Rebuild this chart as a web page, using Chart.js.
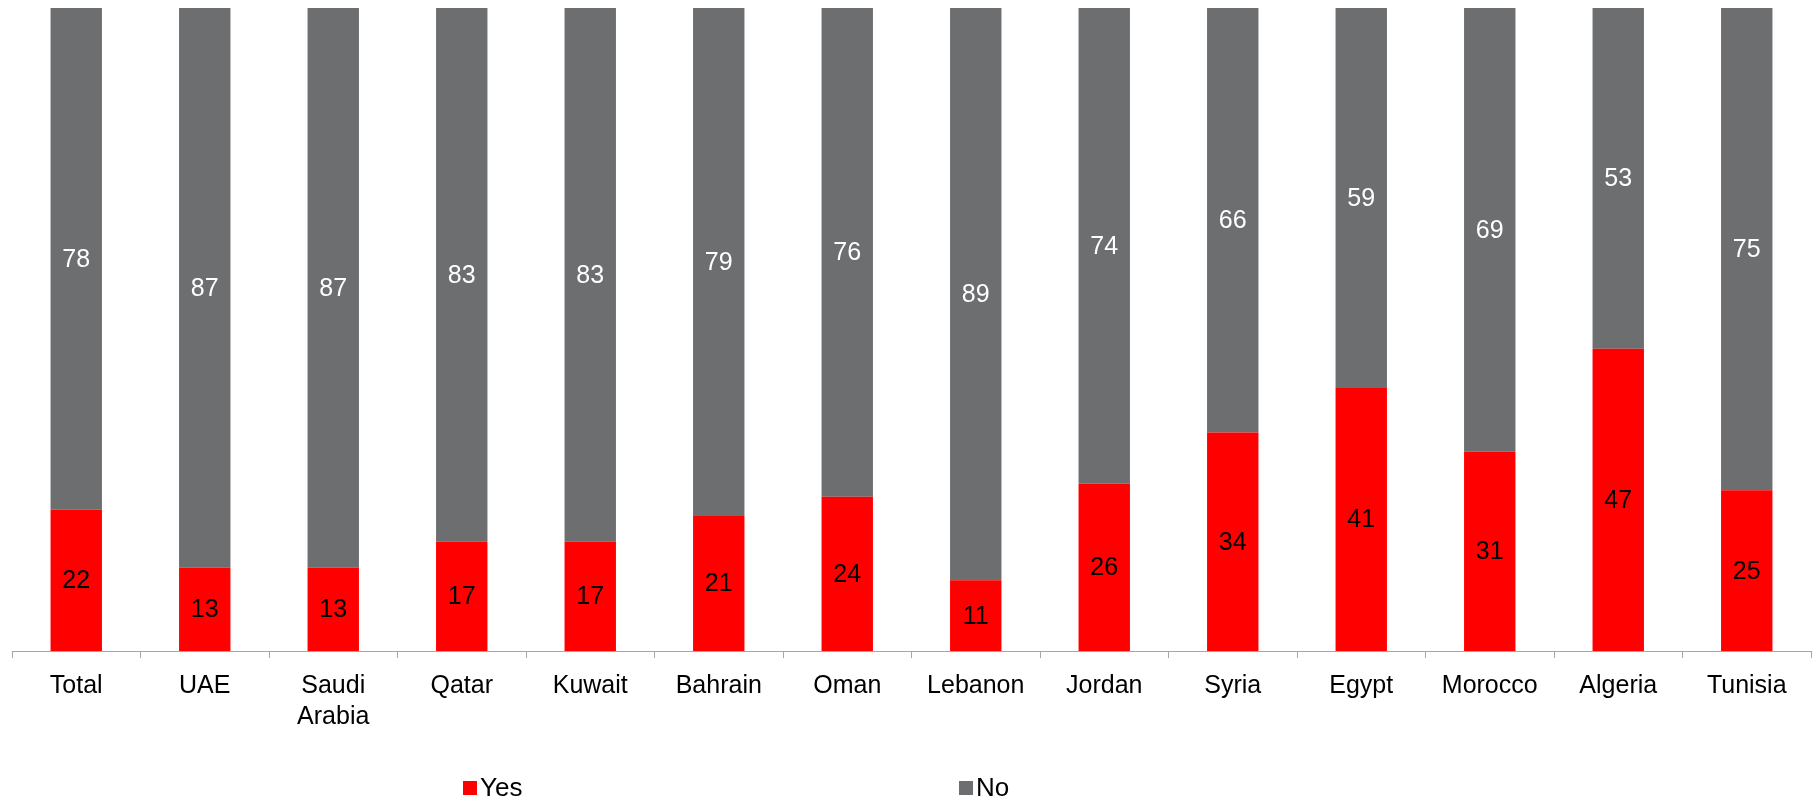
<!DOCTYPE html>
<html>
<head>
<meta charset="utf-8">
<script src="https://cdn.jsdelivr.net/npm/chart.js"></script>
<style>
  body { margin: 0; background: #fff; }
  #wrap { width: 1815px; height: 801px; }
</style>
</head>
<body>
<div id="wrap"><canvas id="myChart" width="1815" height="801"></canvas></div>
<script>
// data
const countries = ['Total', 'UAE', ['Saudi', 'Arabia'], 'Qatar', 'Kuwait', 'Bahrain', 'Oman',
  'Lebanon', 'Jordan', 'Syria', 'Egypt', 'Morocco', 'Algeria', 'Tunisia'];
const yesValues = [22, 13, 13, 17, 17, 21, 24, 11, 26, 34, 41, 31, 47, 25];
const noValues = [78, 87, 87, 83, 83, 79, 76, 89, 74, 66, 59, 69, 53, 75];

const FONT = '"Liberation Sans", Arial, sans-serif';

// value labels in the middle of each bar segment
const barLabels = {
  id: 'barLabels',
  afterDatasetsDraw(chart) {
    const c = chart.ctx;
    c.save();
    c.font = '25px ' + FONT;
    c.textAlign = 'center';
    c.textBaseline = 'middle';
    chart.data.datasets.forEach((ds, i) => {
      const meta = chart.getDatasetMeta(i);
      c.fillStyle = ds.labelColor;
      meta.data.forEach((bar, j) => {
        c.fillText(ds.data[j], bar.x, (bar.y + bar.base) / 2 + 1);
      });
    });
    c.restore();
  }
};

// legend spread out like the original, drawn below the axis
const spreadLegend = {
  id: 'spreadLegend',
  afterDraw(chart) {
    const c = chart.ctx;
    const xs = [463, 959];
    const y = 788;
    c.save();
    c.font = '26px ' + FONT;
    c.textBaseline = 'middle';
    c.textAlign = 'left';
    chart.data.datasets.forEach((ds, i) => {
      c.fillStyle = ds.backgroundColor;
      c.fillRect(xs[i], y - 7, 14, 14);
      c.fillStyle = '#000';
      c.fillText(ds.label, xs[i] + 17, y + 1);
    });
    c.restore();
  }
};

const ctx = document.getElementById('myChart');

new Chart(ctx, {
  type: 'bar',
  data: {
    labels: countries,
    datasets: [{
      label: 'Yes',
      data: yesValues,
      backgroundColor: '#ff0000',
      labelColor: '#000',
      barPercentage: 0.4,
      categoryPercentage: 1
    }, {
      label: 'No',
      data: noValues,
      backgroundColor: '#6d6e70',
      labelColor: '#fff',
      barPercentage: 0.4,
      categoryPercentage: 1
    }]
  },
  options: {
    responsive: false,
    animation: false,
    layout: { padding: { top: 8, left: 12, right: 4, bottom: 55 } },
    plugins: {
      legend: { display: false },
      tooltip: { enabled: false }
    },
    scales: {
      x: {
        stacked: true,
        grid: {
          offset: true,
          drawOnChartArea: false,
          tickLength: 7,
          color: '#a6a6a6'
        },
        border: { color: '#a6a6a6', width: 1 },
        ticks: {
          color: '#000',
          padding: 13,
          maxRotation: 0,
          autoSkip: false,
          font: { family: FONT, size: 25, lineHeight: 1.24 }
        }
      },
      y: {
        stacked: true,
        display: false,
        min: 0,
        max: 100
      }
    }
  },
  plugins: [barLabels, spreadLegend]
});
</script>
</body>
</html>
